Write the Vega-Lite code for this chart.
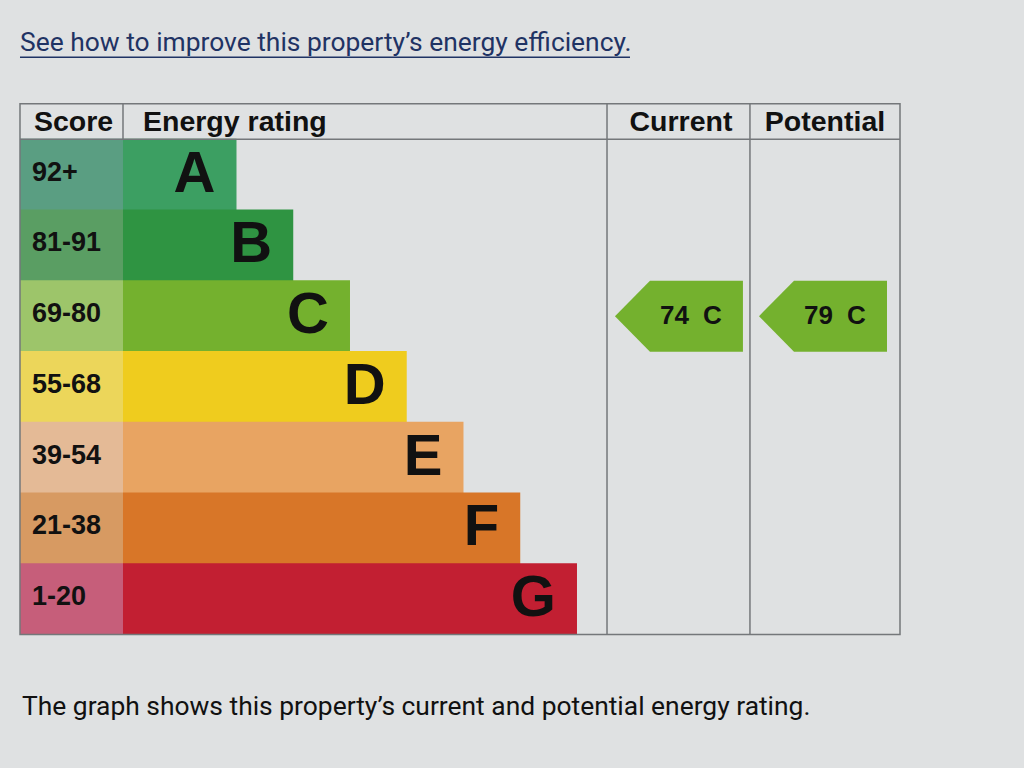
{
  "$schema": "https://vega.github.io/schema/vega-lite/v6.json",
  "width": 1024,
  "height": 768,
  "padding": 0,
  "autosize": {"type": "none"},
  "background": "#dfe1e2",
  "config": {
    "view": {"stroke": null},
    "axis": {"disable": true},
    "legend": {"disable": true},
    "text": {"font": "Liberation Sans", "fontWeight": "bold", "color": "#111111"}
  },
  "datasets": {
    "bands": [
      {"band": "A", "range": "92+", "row": 1, "length": 2},
      {"band": "B", "range": "81-91", "row": 2, "length": 3},
      {"band": "C", "range": "69-80", "row": 3, "length": 4},
      {"band": "D", "range": "55-68", "row": 4, "length": 5},
      {"band": "E", "range": "39-54", "row": 5, "length": 6},
      {"band": "F", "range": "21-38", "row": 6, "length": 7},
      {"band": "G", "range": "1-20", "row": 7, "length": 8}
    ],
    "columns": [
      {"column": "Score", "x0": -1.815, "xc": -0.907},
      {"column": "Energy rating", "x0": 0, "xc": 4.26},
      {"column": "Current", "x0": 8.529, "xc": 9.797},
      {"column": "Potential", "x0": 11.048, "xc": 12.335}
    ],
    "ratings": [
      {"kind": "Current", "score": 74, "band": "C"},
      {"kind": "Potential", "score": 79, "band": "C"}
    ]
  },
  "layer": [
    {
      "data": {"name": "bands"},
      "mark": {"type": "bar", "orient": "horizontal", "height": 71.7},
      "encoding": {
        "x": {"datum": -1.815, "type": "quantitative", "scale": {"type": "linear", "domain": [-2.1674, 15.877], "nice": false, "zero": false}},
        "x2": {"datum": 0},
        "y": {"field": "row", "type": "quantitative", "scale": {"type": "linear", "domain": [-1.3968, 9.3145], "reverse": true, "nice": false, "zero": false}},
        "fill": {"field": "range", "type": "nominal", "scale": {"domain": ["92+", "81-91", "69-80", "55-68", "39-54", "21-38", "1-20"], "range": ["#5a9e82", "#5a9e63", "#9dc56a", "#ecd65a", "#e4ba96", "#d79a62", "#c65e7a"]}}
      }
    },
    {
      "data": {"name": "bands"},
      "mark": {"type": "bar", "orient": "horizontal", "height": 71.7},
      "encoding": {
        "x": {"field": "length", "type": "quantitative"},
        "x2": {"datum": 0},
        "y": {"field": "row", "type": "quantitative"},
        "color": {"field": "band", "type": "nominal", "scale": {"domain": ["A", "B", "C", "D", "E", "F", "G"], "range": ["#3c9f62", "#2f9442", "#74b12e", "#efcc1e", "#e8a462", "#d87628", "#c21f32"]}}
      }
    },
    {
      "data": {"name": "bands"},
      "mark": {"type": "text", "align": "left", "baseline": "middle", "dx": 12, "dy": -2, "fontSize": 27},
      "encoding": {
        "x": {"datum": -1.815, "type": "quantitative"},
        "y": {"field": "row", "type": "quantitative"},
        "text": {"field": "range"}
      }
    },
    {
      "data": {"name": "bands"},
      "mark": {"type": "text", "align": "right", "baseline": "middle", "dx": -21, "fontSize": 58},
      "encoding": {
        "x": {"field": "length", "type": "quantitative"},
        "y": {"field": "row", "type": "quantitative"},
        "text": {"field": "band"}
      }
    },
    {
      "data": {"name": "columns"},
      "transform": [{"filter": "datum.column !== 'Energy rating'"}],
      "mark": {"type": "text", "align": "center", "baseline": "alphabetic", "dx": 2, "fontSize": 28.5},
      "encoding": {
        "x": {"field": "xc", "type": "quantitative"},
        "y": {"datum": 0.39, "type": "quantitative"},
        "text": {"field": "column"}
      }
    },
    {
      "data": {"name": "columns"},
      "transform": [{"filter": "datum.column === 'Energy rating'"}],
      "mark": {"type": "text", "align": "left", "baseline": "alphabetic", "dx": 20, "fontSize": 28.5},
      "encoding": {
        "x": {"field": "x0", "type": "quantitative"},
        "y": {"datum": 0.39, "type": "quantitative"},
        "text": {"field": "column"}
      }
    },
    {
      "data": {"values": [{}]},
      "mark": {"type": "rect", "filled": false, "stroke": "#74777a", "strokeWidth": 1.5},
      "encoding": {
        "x": {"datum": -1.815, "type": "quantitative"},
        "x2": {"datum": 13.692},
        "y": {"datum": 0, "type": "quantitative"},
        "y2": {"datum": 7.5}
      }
    },
    {
      "data": {"values": [{}]},
      "mark": {"type": "rule", "stroke": "#74777a", "strokeWidth": 1.5},
      "encoding": {
        "x": {"datum": -1.815, "type": "quantitative"},
        "x2": {"datum": 13.692},
        "y": {"datum": 0.5, "type": "quantitative"}
      }
    },
    {
      "data": {"values": [{}]},
      "mark": {"type": "rule", "stroke": "#74777a", "strokeWidth": 1.5},
      "encoding": {
        "x": {"datum": 0, "type": "quantitative"},
        "y": {"datum": 0, "type": "quantitative"},
        "y2": {"datum": 0.5}
      }
    },
    {
      "data": {"name": "columns"},
      "transform": [{"filter": "datum.x0 > 1"}],
      "mark": {"type": "rule", "stroke": "#74777a", "strokeWidth": 1.5},
      "encoding": {
        "x": {"field": "x0", "type": "quantitative"},
        "y": {"datum": 0, "type": "quantitative"},
        "y2": {"datum": 7.5}
      }
    },
    {
      "data": {"name": "ratings"},
      "transform": [
        {"lookup": "band", "from": {"data": {"name": "bands"}, "key": "band", "fields": ["row"]}},
        {"lookup": "kind", "from": {"data": {"name": "columns"}, "key": "column", "fields": ["xc"]}}
      ],
      "mark": {"type": "point", "filled": true, "opacity": 1, "size": 16384, "shape": "M -1 0 L -0.453 -0.555 L 1 -0.555 L 1 0.555 L -0.453 0.555 Z"},
      "encoding": {
        "x": {"field": "xc", "type": "quantitative"},
        "y": {"field": "row", "type": "quantitative"},
        "color": {"field": "band", "type": "nominal"}
      }
    },
    {
      "data": {"name": "ratings"},
      "transform": [
        {"lookup": "band", "from": {"data": {"name": "bands"}, "key": "band", "fields": ["row"]}},
        {"lookup": "kind", "from": {"data": {"name": "columns"}, "key": "column", "fields": ["xc"]}}
      ],
      "mark": {"type": "text", "align": "right", "baseline": "middle", "dx": 10, "fontSize": 26},
      "encoding": {
        "x": {"field": "xc", "type": "quantitative"},
        "y": {"field": "row", "type": "quantitative"},
        "text": {"field": "score"}
      }
    },
    {
      "data": {"name": "ratings"},
      "transform": [
        {"lookup": "band", "from": {"data": {"name": "bands"}, "key": "band", "fields": ["row"]}},
        {"lookup": "kind", "from": {"data": {"name": "columns"}, "key": "column", "fields": ["xc"]}}
      ],
      "mark": {"type": "text", "align": "left", "baseline": "middle", "dx": 24, "fontSize": 26},
      "encoding": {
        "x": {"field": "xc", "type": "quantitative"},
        "y": {"field": "row", "type": "quantitative"},
        "text": {"field": "band"}
      }
    },
    {
      "data": {"values": [{"note": "See how to improve this property’s energy efficiency."}]},
      "mark": {"type": "text", "align": "left", "baseline": "alphabetic", "font": "Roboto", "fontWeight": "normal", "fontSize": 26.4, "color": "#1f3364"},
      "encoding": {
        "x": {"datum": -1.815, "type": "quantitative"},
        "y": {"datum": -0.74, "type": "quantitative"},
        "text": {"field": "note"}
      }
    },
    {
      "data": {"values": [{}]},
      "mark": {"type": "rule", "stroke": "#1f3364", "strokeWidth": 1.5},
      "encoding": {
        "x": {"datum": -1.815, "type": "quantitative"},
        "x2": {"datum": 8.934},
        "y": {"datum": -0.66, "type": "quantitative"}
      }
    },
    {
      "data": {"values": [{"note": "The graph shows this property’s current and potential energy rating."}]},
      "mark": {"type": "text", "align": "left", "baseline": "alphabetic", "font": "Roboto", "fontWeight": "normal", "fontSize": 26.4, "color": "#111111"},
      "encoding": {
        "x": {"datum": -1.78, "type": "quantitative"},
        "y": {"datum": 8.64, "type": "quantitative"},
        "text": {"field": "note"}
      }
    }
  ]
}
